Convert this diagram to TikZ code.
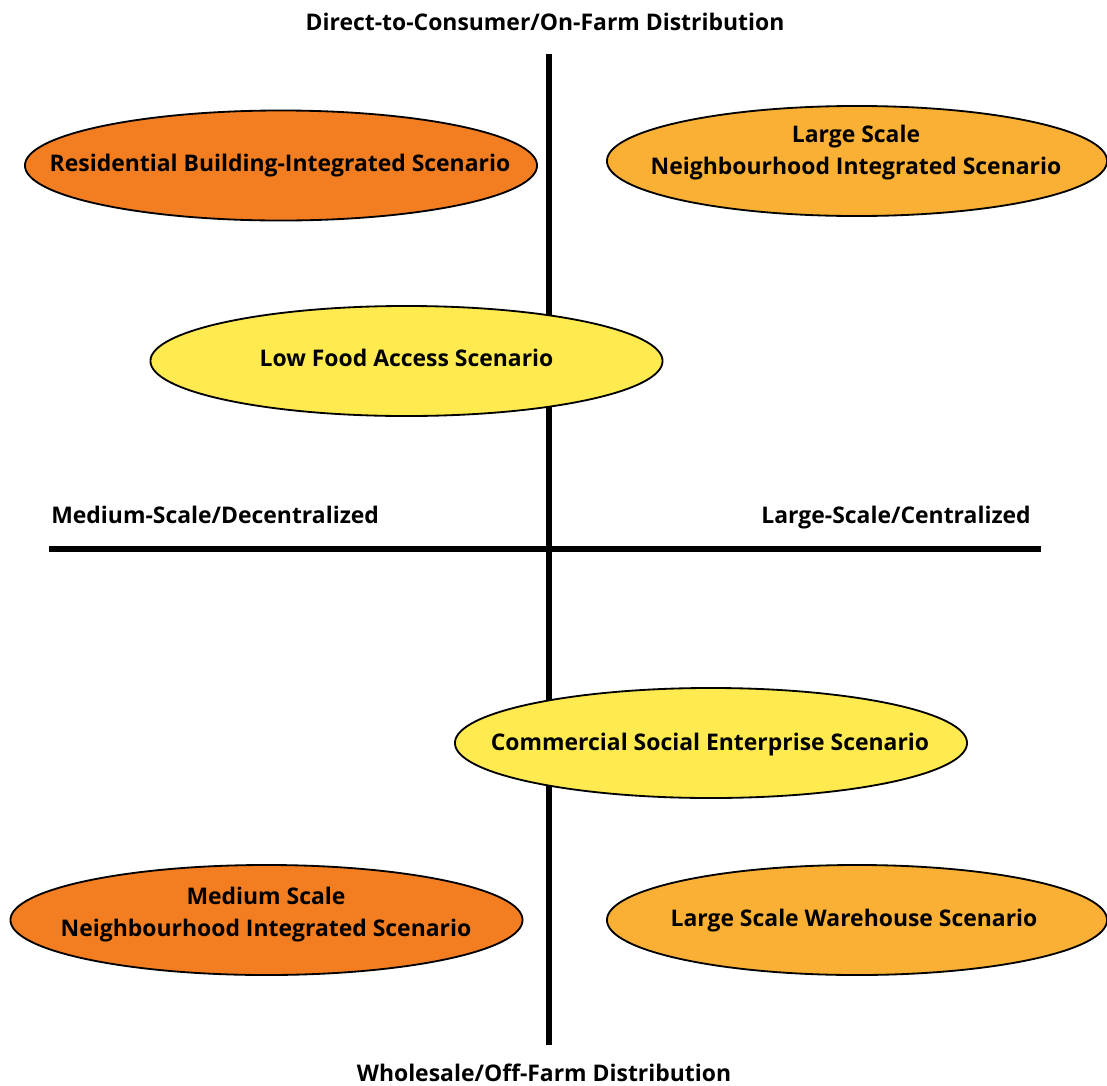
\documentclass[tikz,border=0pt]{standalone}
\usepackage{fontspec}
\setmainfont{Open Sans}
\usepackage{xcolor}
\usepackage{tikz}
\usetikzlibrary{shapes.geometric}

\definecolor{darkorange}{HTML}{F37E22}
\definecolor{lightorange}{HTML}{FAB034}
\definecolor{paleyellow}{HTML}{FFEB4F}

\begin{document}
\begin{tikzpicture}[x=0.025cm,y=-0.025cm,
        scen/.style={ellipse,draw,line width=1.3pt,inner sep=0pt,
            minimum width=12.8cm,minimum height=2.75cm},
        scentext/.style={align=center,inner sep=0pt,
            font=\bfseries\fontsize{16.3}{22.8}\selectfont},
        axislabel/.style={anchor=base,inner sep=0pt,
            font=\bfseries\fontsize{16.3}{20}\selectfont}]
            \useasboundingbox (0,0) rectangle (1107,1086);
            \clip (0,0) rectangle (1107,1086);

            % Axes
            \coordinate (n) at (549,54);
            \coordinate (s) at (549,1045);
            \coordinate (w) at (49,549);
            \coordinate (e) at (1041,549);
            \draw[line width=4.3pt] (n) -- (s);
            \draw[line width=4.3pt] (w) -- (e);

            % Axis labels
            \node[axislabel] (top) at (545,30) {Direct-to-Consumer/On-Farm Distribution};
            \node[axislabel] (bottom) at (544,1081) {Wholesale/Off-Farm Distribution};
            \node[axislabel,anchor=base west] (left) at (51,523) {Medium-Scale/Decentralized};
            \node[axislabel,anchor=base east] (right) at (1031,523) {Large-Scale/Centralized};

            % Scenarios
            \node[scen,fill=darkorange] (res) at (281,165.5) {};
            \node[scen,fill=lightorange,minimum width=12.5cm] (lsn) at (857,161) {};
            \node[scen,fill=paleyellow] (lfa) at (406.5,361) {};
            \node[scen,fill=paleyellow] (cse) at (711,743) {};
            \node[scen,fill=darkorange] (msn) at (266.5,920) {};
            \node[scen,fill=lightorange,minimum width=12.5cm] (lsw) at (857,920) {};

            % Scenario names
            \node[scentext,anchor=base] (res-t) at (280,171) {Residential Building-Integrated Scenario};
            \node[scentext] (lsn-t) at (856,153) {Large Scale\\Neighbourhood Integrated Scenario};
            \node[scentext,anchor=base] (lfa-t) at (406.5,366) {Low Food Access Scenario};
            \node[scentext,anchor=base] (cse-t) at (710,750) {Commercial Social Enterprise Scenario};
            \node[scentext] (msn-t) at (266,915) {Medium Scale\\Neighbourhood Integrated Scenario};
            \node[scentext,anchor=base] (lsw-t) at (854,926) {Large Scale Warehouse Scenario};
        \end{tikzpicture}
\end{document}
